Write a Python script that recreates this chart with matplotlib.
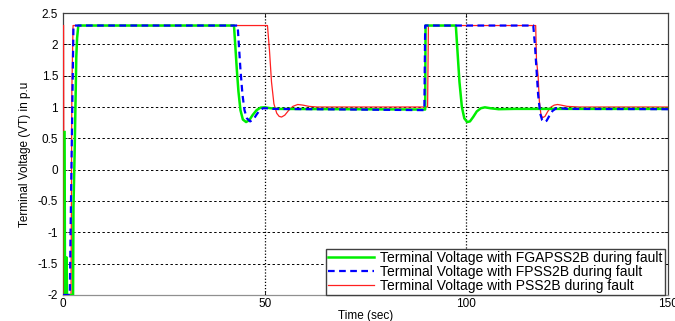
import matplotlib
matplotlib.use('Agg')
from matplotlib import pyplot as plt

# FGAPSS2B (green)
t_fga = [0.4, 0.5, 0.8, 0.9, 1.0, 2.5, 2.6, 2.9, 3.3, 3.5, 3.8,
         42.4, 42.7, 43.1, 43.5, 44.0, 44.6, 45.4, 46.2, 47.0, 48.0, 49.0, 50.0, 51.5, 53.0,
         89.8, 89.9,
         97.4, 97.8, 98.3, 98.9, 99.5, 100.2, 100.9, 101.7, 102.6, 103.6, 104.6, 106.0, 108.0,
         112.0, 150.0]
v_fga = [0.6, -2.0, -2.0, -1.4, -2.0, -2.0, -0.6, 0.3, 1.8, 2.1, 2.3,
         2.3, 2.0, 1.6, 1.25, 0.95, 0.8, 0.76, 0.79, 0.87, 0.95, 0.99, 0.995, 0.98, 0.97,
         0.96, 2.3,
         2.3, 1.9, 1.4, 1.0, 0.82, 0.76, 0.77, 0.84, 0.93, 0.98, 0.995, 0.98, 0.965,
         0.97, 0.97]

# FPSS2B (blue dashed)
t_fp = [0.0, 1.7, 1.9, 2.2, 2.6,
        43.3, 43.6, 44.0, 44.5, 45.0, 45.6, 46.4, 47.2, 48.0, 48.8, 49.6, 50.5, 52.0,
        89.6, 89.8,
        116.6, 117.0, 117.4, 117.8, 118.3, 118.8, 119.3, 119.9, 120.6, 121.4, 122.3, 123.5,
        125.0, 150.0]
v_fp = [-2.0, -2.0, -0.9, 0.5, 2.3,
        2.3, 2.0, 1.6, 1.2, 0.95, 0.82, 0.77, 0.80, 0.88, 0.95, 0.98, 0.98, 0.97,
        0.95, 2.3,
        2.3, 2.0, 1.6, 1.2, 0.9, 0.79, 0.76, 0.78, 0.86, 0.94, 0.98, 0.98,
        0.97, 0.965]

# PSS2B (red)
t_pss = [0.15, 0.25, 2.0, 2.2, 2.5,
         50.7, 51.2, 51.7, 52.3, 53.0, 53.6, 54.2, 55.0, 56.0, 57.0, 58.2, 59.5, 61.0, 63.0,
         90.4, 90.6,
         117.2, 117.4, 117.8, 118.1, 118.5, 118.9, 119.5, 120.2, 121.0, 121.8, 122.6, 123.5,
         125.0, 128.0, 150.0]
v_pss = [2.3, -2.0, -2.0, 1.27, 2.3,
         2.3, 1.9, 1.4, 1.05, 0.9, 0.85, 0.84, 0.87, 0.95, 1.01, 1.04, 1.03, 1.01, 1.0,
         1.0, 2.3,
         2.3, 1.75, 1.5, 1.1, 0.88, 0.83, 0.85, 0.93, 1.0, 1.03, 1.04, 1.03,
         1.01, 1.0, 1.0]

x_ticks = [0, 50, 100, 150]
y_ticks = [-2, -1.5, -1, -0.5, 0, 0.5, 1, 1.5, 2, 2.5]
y_tick_labels = ['-2', '-1.5', '-1', '-0.5', '0', '0.5', '1', '1.5', '2', '2.5']

plt.rcParams['font.family'] = ['Liberation Sans', 'DejaVu Sans']

fig = plt.figure(figsize=(6.75, 3.21), dpi=100)
ax = fig.add_axes([0.0933, 0.081, 0.8963, 0.8785])

l_red, = ax.plot(t_pss, v_pss, color='#ff2020', lw=0.9, zorder=3)
l_green, = ax.plot(t_fga, v_fga, color='#00ee00', lw=1.8, zorder=4)
l_blue, = ax.plot(t_fp, v_fp, color='#0000ff', lw=1.6, ls=(0, (3, 2)), zorder=5)

ax.set_xlim(0, 150)
ax.set_ylim(-2, 2.5)
ax.set_xticks(x_ticks)
ax.set_yticks(y_ticks)
ax.set_yticklabels(y_tick_labels)

for y in y_ticks[1:-1]:
    ax.axhline(y, color='black', lw=0.7, ls=(0, (2.5, 2.5)), zorder=1)
for x in x_ticks[1:-1]:
    ax.axvline(x, color='black', lw=0.9, ls=(0, (1, 1.5)), zorder=1)

for s in ax.spines.values():
    s.set_color('#404040')
    s.set_linewidth(0.9)
ax.spines['bottom'].set_color('#909090')
ax.tick_params(direction='in', length=3, width=0.6, labelsize=8.5,
               top=True, right=True)
ax.tick_params(axis='y', pad=3.5)
ax.tick_params(axis='x', pad=2)

ax.set_xlabel('Time (sec)', fontsize=8.5, labelpad=0)
ax.set_ylabel('Terminal Voltage (VT) in p.u', fontsize=8.5, labelpad=5)

ax.legend([l_green, l_blue, l_red],
          ['Terminal Voltage with FGAPSS2B during fault',
           'Terminal Voltage with FPSS2B during fault',
           'Terminal Voltage with PSS2B during fault'],
          loc='lower right', bbox_to_anchor=(0.995, 0.0), borderaxespad=0,
          fontsize=10, handlelength=3.3, handletextpad=0.5,
          labelspacing=0.0, borderpad=0.15,
          fancybox=False, framealpha=1, edgecolor='#404040')

fig.savefig('out.png', dpi=100)
